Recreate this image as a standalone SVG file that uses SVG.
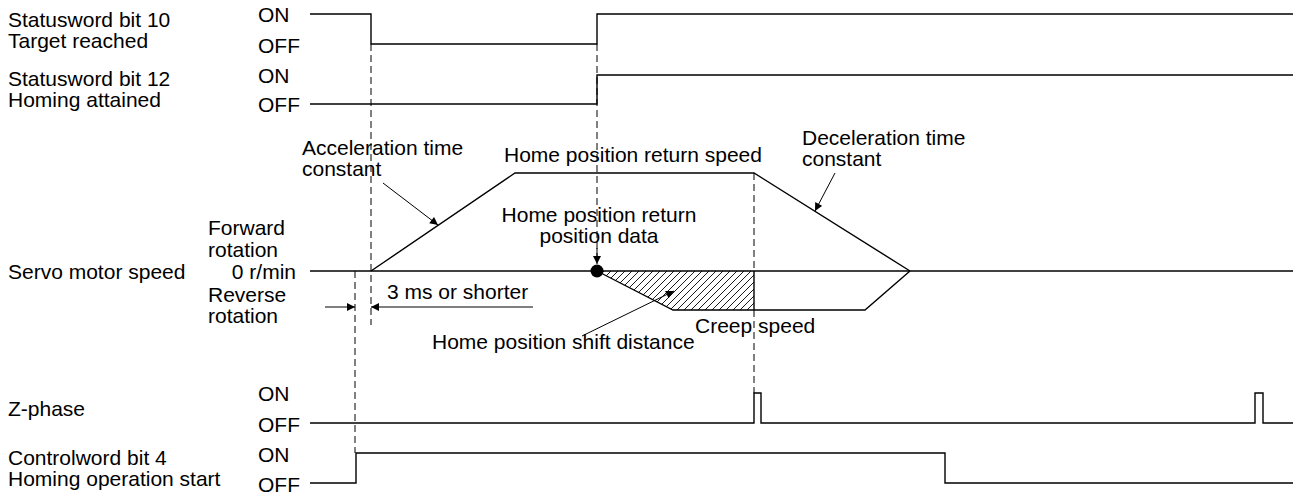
<svg xmlns="http://www.w3.org/2000/svg" width="1296" height="494" viewBox="0 0 1296 494">
<style>
text{font-family:"Liberation Sans",Arial,sans-serif;font-size:21px;fill:#000}
.sig{fill:none;stroke:#000;stroke-width:1.4}
.dash{fill:none;stroke:#000;stroke-width:1;stroke-dasharray:7 4}
.ln{fill:none;stroke:#000;stroke-width:1}
.mid{text-anchor:middle}
.end{text-anchor:end}
</style>
<defs>
<marker id="ah" viewBox="0 0 10 10" refX="10" refY="5" markerWidth="10" markerHeight="8" markerUnits="userSpaceOnUse" orient="auto">
<path d="M0,0 L10,5 L0,10 z" fill="#000"/>
</marker>
<pattern id="hatch" patternUnits="userSpaceOnUse" width="7" height="7">
<path d="M0,7 L7,0 M-1,1 L1,-1 M6,8 L8,6" stroke="#000" stroke-width="0.9"/>
</pattern>
</defs>
<rect width="1296" height="494" fill="#fff"/>

<g id="sw10">
<text x="8" y="26.5">Statusword bit 10</text>
<text x="8" y="47.5">Target reached</text>
<text x="258" y="22">ON</text>
<text x="258" y="52.5">OFF</text>
<path class="sig" d="M310,14 H371 V44 H597 V14 H1293"/>
</g>

<g id="sw12">
<text x="8" y="86">Statusword bit 12</text>
<text x="8" y="107">Homing attained</text>
<text x="258" y="82.5">ON</text>
<text x="258" y="111.5">OFF</text>
<path class="sig" d="M310,104 H597 V75 H1293"/>
</g>

<g id="speed">
<text x="8" y="279">Servo motor speed</text>
<text x="208" y="235">Forward</text>
<text x="208" y="257">rotation</text>
<text x="296" y="279" class="end">0 r/min</text>
<text x="208" y="302">Reverse</text>
<text x="208" y="323">rotation</text>
<path class="sig" d="M310,271 H1293"/>
<path class="sig" d="M371,271 L515,173 H754 L910,271"/>
<polygon points="597,271 673,310 754,310 754,271" fill="url(#hatch)" stroke="none"/>
<path class="sig" d="M597,271 L673,310 H865 L910,271"/>
<path class="sig" d="M754,271 V310"/>
<circle cx="597" cy="271" r="6.5" fill="#000"/>
</g>

<g id="zphase">
<text x="8" y="416">Z-phase</text>
<text x="258" y="401">ON</text>
<text x="258" y="431.5">OFF</text>
<path class="sig" d="M310,423 H754 V393 H761 V423 H1255 V393 H1263 V423 H1293"/>
</g>

<g id="cw4">
<text x="8" y="465">Controlword bit 4</text>
<text x="8" y="486">Homing operation start</text>
<text x="258" y="461.5">ON</text>
<text x="258" y="491.5">OFF</text>
<path class="sig" d="M310,483 H356 V453 H945 V483 H1293"/>
</g>

<g id="labels">
<text x="302" y="155">Acceleration time</text>
<text x="302" y="176">constant</text>
<text x="504" y="162">Home position return speed</text>
<text x="599" y="222" class="mid">Home position return</text>
<text x="599" y="243" class="mid">position data</text>
<text x="802" y="145">Deceleration time</text>
<text x="802" y="166">constant</text>
<text x="387" y="299">3 ms or shorter</text>
<text x="695" y="333">Creep speed</text>
<text x="432" y="349">Home position shift distance</text>
</g>

<g id="connectors">
<path class="dash" d="M371,44 V325"/>
<path class="dash" d="M597,44 V264"/>
<path class="dash" d="M754,173 V271 M754,310 V393"/>
<path class="dash" d="M355,271 V453"/>
<path class="ln" d="M383,183 L438,225" marker-end="url(#ah)"/>
<path class="ln" d="M835,173 L815,211" marker-end="url(#ah)"/>
<path class="ln" d="M597,248 V264" marker-end="url(#ah)"/>
<path class="ln" d="M582,336 L674,291" marker-end="url(#ah)"/>
<path class="ln" d="M325,307 H355" marker-end="url(#ah)"/>
<path class="ln" d="M533,307 H371" marker-end="url(#ah)"/>
</g>
</svg>
